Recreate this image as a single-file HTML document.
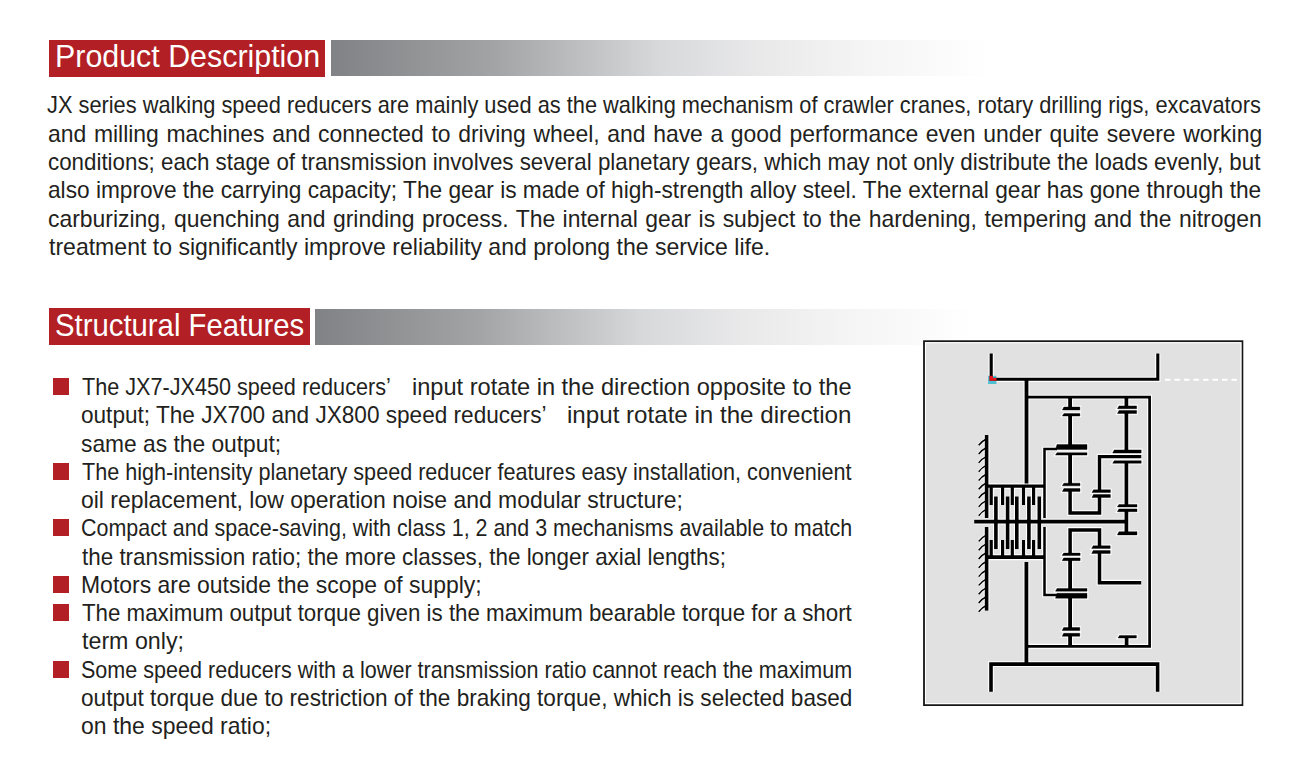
<!DOCTYPE html>
<html><head><meta charset="utf-8"><style>
html,body{margin:0;padding:0;background:#fff;}
body{width:1298px;height:758px;position:relative;overflow:hidden;font-family:"Liberation Sans",sans-serif;}
.l{position:absolute;white-space:nowrap;font-size:24px;line-height:28px;height:28px;color:#231f20;transform-origin:0 0;}
.j{text-align:justify;text-align-last:justify;}
.hd{position:absolute;background:#b21f24;}
.ht{position:absolute;white-space:nowrap;font-size:32px;line-height:36px;color:#fff;transform-origin:0 0;}
.gr{position:absolute;background:linear-gradient(to right,#808285 0%,#a3a4a6 25%,#d8d9db 50%,#e9e9ea 65%,#f4f4f4 80%,#ffffff 100%);}
.bu{position:absolute;background:#b21f24;width:16px;height:17px;}
svg{position:absolute;left:0;top:0;}
</style></head><body>

<div class="hd" style="left:49px;top:40px;width:276px;height:36.5px"></div>
<div class="gr" style="left:331px;top:40px;width:660px;height:36px"></div>
<div class="hd" style="left:49px;top:308.3px;width:261px;height:36.7px"></div>
<div class="gr" style="left:315px;top:308.5px;width:660px;height:36.3px"></div>
<div class="ht" style="left:54.951094890510944px;top:37.71px;transform:scaleX(0.9496)">Product Description</div>
<div class="ht" style="left:54.768029739776956px;top:306.91px;transform:scaleX(0.9160)">Structural Features</div>
<div class="l j" style="left:47.09px;top:91.38px;width:1336.56px;transform:scaleX(0.9082)">JX series walking speed reducers are mainly used as the walking mechanism of crawler cranes, rotary drilling rigs, excavators</div>
<div class="l j" style="left:48.05px;top:119.68px;width:1271.37px;transform:scaleX(0.9550)">and milling machines and connected to driving wheel, and have a good performance even under quite severe working</div>
<div class="l j" style="left:48.07px;top:147.98px;width:1302.92px;transform:scaleX(0.9305)">conditions; each stage of transmission involves several planetary gears, which may not only distribute the loads evenly, but</div>
<div class="l j" style="left:48.05px;top:176.28px;width:1283.86px;transform:scaleX(0.9450)">also improve the carrying capacity; The gear is made of high-strength alloy steel. The external gear has gone through the</div>
<div class="l j" style="left:48.05px;top:204.58px;width:1270.95px;transform:scaleX(0.9550)">carburizing, quenching and grinding process. The internal gear is subject to the hardening, tempering and the nitrogen</div>
<div class="l" style="left:49.00px;top:232.88px;transform:scaleX(0.9603)">treatment to significantly improve reliability and prolong the service life.</div>
<div class="l" style="left:81.60px;top:373.18px;transform:scaleX(0.9006)">The JX7-JX450 speed reducers’</div>
<div class="l" style="left:412.43px;top:373.18px;transform:scaleX(0.9833)">input rotate in the direction opposite to the</div>
<div class="l" style="left:80.66px;top:401.43px;transform:scaleX(0.9411)">output; The JX700 and JX800 speed reducers’</div>
<div class="l" style="left:567.39px;top:401.43px;transform:scaleX(1.0057)">input rotate in the direction</div>
<div class="l" style="left:80.65px;top:429.68px;transform:scaleX(0.9490)">same as the output;</div>
<div class="l j" style="left:81.60px;top:457.93px;width:855.19px;transform:scaleX(0.8999)">The high-intensity planetary speed reducer features easy installation, convenient</div>
<div class="l" style="left:80.64px;top:486.18px;transform:scaleX(0.9560)">oil replacement, low operation noise and modular structure;</div>
<div class="l j" style="left:80.71px;top:514.43px;width:863.11px;transform:scaleX(0.8936)">Compact and space-saving, with class 1, 2 and 3 mechanisms available to match</div>
<div class="l" style="left:81.60px;top:542.68px;transform:scaleX(0.9337)">the transmission ratio; the more classes, the longer axial lengths;</div>
<div class="l" style="left:80.69px;top:570.93px;transform:scaleX(0.9564)">Motors are outside the scope of supply;</div>
<div class="l j" style="left:81.60px;top:599.18px;width:828.41px;transform:scaleX(0.9292)">The maximum output torque given is the maximum bearable torque for a short</div>
<div class="l" style="left:81.60px;top:627.43px;transform:scaleX(0.9680)">term only;</div>
<div class="l j" style="left:80.70px;top:655.68px;width:859.05px;transform:scaleX(0.8978)">Some speed reducers with a lower transmission ratio cannot reach the maximum</div>
<div class="l j" style="left:80.66px;top:683.93px;width:819.17px;transform:scaleX(0.9417)">output torque due to restriction of the braking torque, which is selected based</div>
<div class="l" style="left:80.64px;top:712.18px;transform:scaleX(0.9561)">on the speed ratio;</div>
<div class="bu" style="left:53px;top:378.00px"></div>
<div class="bu" style="left:53px;top:462.75px"></div>
<div class="bu" style="left:53px;top:519.25px"></div>
<div class="bu" style="left:53px;top:575.75px"></div>
<div class="bu" style="left:53px;top:604.00px"></div>
<div class="bu" style="left:53px;top:660.50px"></div>
<svg width="1298" height="758" viewBox="0 0 1298 758">
<rect x="924" y="341.2" width="318.4" height="363.9" fill="#e1e1e1" stroke="#161616" stroke-width="1.8"/>
<rect x="925.5" y="342.7" width="315.4" height="360.9" fill="none" stroke="#fff" stroke-width="1"/>
<line x1="1165" y1="379.8" x2="1239" y2="379.8" stroke="#fff" stroke-width="2" stroke-dasharray="5.5 4"/>
<path d="M991.2,353.5 V379.3 H1157.8 V353.5" fill="none" stroke="#fff" stroke-width="5.300000000000001" stroke-linejoin="miter"/>
<path d="M1026.5,379.3 V483.5" fill="none" stroke="#fff" stroke-width="6.0" stroke-linejoin="miter"/>
<path d="M1026.5,397.1 H1149.6 V646.3 H1026.5" fill="none" stroke="#fff" stroke-width="4.9" stroke-linejoin="miter"/>
<path d="M1026.4,562 V664.1" fill="none" stroke="#fff" stroke-width="6.0" stroke-linejoin="miter"/>
<path d="M991,691.7 V664.1 H1157.6 V691.7" fill="none" stroke="#fff" stroke-width="5.800000000000001" stroke-linejoin="miter"/>
<path d="M1070.1,397 V408.5" fill="none" stroke="#fff" stroke-width="6.0" stroke-linejoin="miter"/>
<path d="M1070.1,414.8 V447" fill="none" stroke="#fff" stroke-width="6.0" stroke-linejoin="miter"/>
<path d="M1070.1,453.9 V484.5" fill="none" stroke="#fff" stroke-width="6.0" stroke-linejoin="miter"/>
<path d="M1070.1,490.1 V513 H1099.5 V496" fill="none" stroke="#fff" stroke-width="5.7" stroke-linejoin="miter"/>
<path d="M1099.5,491.2 V456.6 H1141.2" fill="none" stroke="#fff" stroke-width="5.6000000000000005" stroke-linejoin="miter"/>
<path d="M1126.4,397 V407.3" fill="none" stroke="#fff" stroke-width="5.9" stroke-linejoin="miter"/>
<path d="M1126.4,412 V451.5" fill="none" stroke="#fff" stroke-width="5.9" stroke-linejoin="miter"/>
<path d="M1126.4,462 V505.7" fill="none" stroke="#fff" stroke-width="5.9" stroke-linejoin="miter"/>
<path d="M1126.4,510.3 V533.3" fill="none" stroke="#fff" stroke-width="5.9" stroke-linejoin="miter"/>
<path d="M974.2,521.6 H1127.6" fill="none" stroke="#fff" stroke-width="5.800000000000001" stroke-linejoin="miter"/>
<path d="M986.6,435 V518" fill="none" stroke="#fff" stroke-width="5.800000000000001" stroke-linejoin="miter"/>
<path d="M986.6,527 V610.6" fill="none" stroke="#fff" stroke-width="5.800000000000001" stroke-linejoin="miter"/>
<path d="M986.6,486.1 H1044.5" fill="none" stroke="#fff" stroke-width="5.6000000000000005" stroke-linejoin="miter"/>
<path d="M1044.5,518 V449 H1057" fill="none" stroke="#fff" stroke-width="4.7" stroke-linejoin="miter"/>
<path d="M1044.5,527 V595 H1057" fill="none" stroke="#fff" stroke-width="4.7" stroke-linejoin="miter"/>
<path d="M986.6,557.2 H1044.5" fill="none" stroke="#fff" stroke-width="5.9" stroke-linejoin="miter"/>
<path d="M991.2,486 V505" fill="none" stroke="#fff" stroke-width="5.4" stroke-linejoin="miter"/>
<path d="M991.2,540 V557" fill="none" stroke="#fff" stroke-width="5.4" stroke-linejoin="miter"/>
<path d="M1002.6,486 V505" fill="none" stroke="#fff" stroke-width="5.4" stroke-linejoin="miter"/>
<path d="M1002.6,540 V557" fill="none" stroke="#fff" stroke-width="5.4" stroke-linejoin="miter"/>
<path d="M1012.3,486 V505" fill="none" stroke="#fff" stroke-width="5.4" stroke-linejoin="miter"/>
<path d="M1012.3,540 V557" fill="none" stroke="#fff" stroke-width="5.4" stroke-linejoin="miter"/>
<path d="M1023.5,486 V505" fill="none" stroke="#fff" stroke-width="5.4" stroke-linejoin="miter"/>
<path d="M1023.5,540 V557" fill="none" stroke="#fff" stroke-width="5.4" stroke-linejoin="miter"/>
<path d="M1033.6,486 V505" fill="none" stroke="#fff" stroke-width="5.4" stroke-linejoin="miter"/>
<path d="M1033.6,540 V557" fill="none" stroke="#fff" stroke-width="5.4" stroke-linejoin="miter"/>
<path d="M995.9,496.5 V521.6" fill="none" stroke="#fff" stroke-width="5.800000000000001" stroke-linejoin="miter"/>
<path d="M995.9,521.6 V549" fill="none" stroke="#fff" stroke-width="5.800000000000001" stroke-linejoin="miter"/>
<path d="M1007.6,496.5 V521.6" fill="none" stroke="#fff" stroke-width="5.800000000000001" stroke-linejoin="miter"/>
<path d="M1007.6,521.6 V549" fill="none" stroke="#fff" stroke-width="5.800000000000001" stroke-linejoin="miter"/>
<path d="M1016.8,496.5 V521.6" fill="none" stroke="#fff" stroke-width="5.800000000000001" stroke-linejoin="miter"/>
<path d="M1016.8,521.6 V549" fill="none" stroke="#fff" stroke-width="5.800000000000001" stroke-linejoin="miter"/>
<path d="M1028.9,496.5 V521.6" fill="none" stroke="#fff" stroke-width="5.800000000000001" stroke-linejoin="miter"/>
<path d="M1028.9,521.6 V549" fill="none" stroke="#fff" stroke-width="5.800000000000001" stroke-linejoin="miter"/>
<path d="M1039.3,496.5 V521.6" fill="none" stroke="#fff" stroke-width="5.800000000000001" stroke-linejoin="miter"/>
<path d="M1039.3,521.6 V549" fill="none" stroke="#fff" stroke-width="5.800000000000001" stroke-linejoin="miter"/>
<path d="M1070.1,554.3 V529.9 H1099.5 V547.1" fill="none" stroke="#fff" stroke-width="5.7" stroke-linejoin="miter"/>
<path d="M1070.1,559.3 V589.8" fill="none" stroke="#fff" stroke-width="6.0" stroke-linejoin="miter"/>
<path d="M1070.1,598 V629" fill="none" stroke="#fff" stroke-width="6.0" stroke-linejoin="miter"/>
<path d="M1070.1,634.8 V646.3" fill="none" stroke="#fff" stroke-width="6.0" stroke-linejoin="miter"/>
<path d="M1099.5,552.1 V582.7 H1141.2" fill="none" stroke="#fff" stroke-width="5.7" stroke-linejoin="miter"/>
<path d="M1126.6,636.7 V646.3" fill="none" stroke="#fff" stroke-width="5.9" stroke-linejoin="miter"/>
<path d="M1063.9,407.0 H1079.9 V410.0 H1062.4 Z" fill="#fff" stroke="#fff" stroke-width="2.6"/>
<path d="M1063.9,413.55 H1079.9 V416.05 H1062.4 Z" fill="#fff" stroke="#fff" stroke-width="2.6"/>
<path d="M1057,444.4 H1087 V449.6 H1055.5 Z" fill="#fff" stroke="#fff" stroke-width="2.6"/>
<path d="M1057.0,452.7 H1087 V455.09999999999997 H1055.5 Z" fill="#fff" stroke="#fff" stroke-width="2.6"/>
<path d="M1063.9,483.15 H1080 V485.85 H1062.4 Z" fill="#fff" stroke="#fff" stroke-width="2.6"/>
<path d="M1063.9,488.6 H1080 V491.6 H1062.4 Z" fill="#fff" stroke="#fff" stroke-width="2.6"/>
<path d="M1093.5,489.84999999999997 H1110.4 V492.55 H1092 Z" fill="#fff" stroke="#fff" stroke-width="2.6"/>
<path d="M1093.5,494.5 H1110.4 V497.5 H1092 Z" fill="#fff" stroke="#fff" stroke-width="2.6"/>
<path d="M1119.0,405.90000000000003 H1136.6 V408.7 H1117.5 Z" fill="#fff" stroke="#fff" stroke-width="2.6"/>
<path d="M1119.0,410.5 H1136.6 V413.5 H1117.5 Z" fill="#fff" stroke="#fff" stroke-width="2.6"/>
<path d="M1114.2,449.9 H1141.2 V453.1 H1112.7 Z" fill="#fff" stroke="#fff" stroke-width="2.6"/>
<path d="M1114.2,460.75 H1141.2 V463.25 H1112.7 Z" fill="#fff" stroke="#fff" stroke-width="2.6"/>
<path d="M1118.9,504.45 H1137 V506.95 H1117.4 Z" fill="#fff" stroke="#fff" stroke-width="2.6"/>
<path d="M1118.9,508.90000000000003 H1137 V511.7 H1117.4 Z" fill="#fff" stroke="#fff" stroke-width="2.6"/>
<path d="M1118.9,531.6999999999999 H1137 V534.9 H1117.4 Z" fill="#fff" stroke="#fff" stroke-width="2.6"/>
<path d="M1063.7,553.0999999999999 H1080.1 V555.5 H1062.2 Z" fill="#fff" stroke="#fff" stroke-width="2.6"/>
<path d="M1063.7,557.9 H1080.1 V560.6999999999999 H1062.2 Z" fill="#fff" stroke="#fff" stroke-width="2.6"/>
<path d="M1057.0,588.4499999999999 H1087 V591.15 H1055.5 Z" fill="#fff" stroke="#fff" stroke-width="2.6"/>
<path d="M1057,593.3 H1087 V598.2 H1055.5 Z" fill="#fff" stroke="#fff" stroke-width="2.6"/>
<path d="M1063.7,627.5 H1079.8 V630.5 H1062.2 Z" fill="#fff" stroke="#fff" stroke-width="2.6"/>
<path d="M1063.7,633.3 H1079.8 V636.3 H1062.2 Z" fill="#fff" stroke="#fff" stroke-width="2.6"/>
<path d="M1093.2,545.8000000000001 H1110.2 V548.4 H1091.7 Z" fill="#fff" stroke="#fff" stroke-width="2.6"/>
<path d="M1093.2,550.6 H1110.2 V553.6 H1091.7 Z" fill="#fff" stroke="#fff" stroke-width="2.6"/>
<path d="M1119.5,635.4000000000001 H1136.4 V638.0 H1118 Z" fill="#fff" stroke="#fff" stroke-width="2.6"/>
<path d="M978.7,445.3 Q982.3,440.8 985.5,439.5 M978.7,454.1 Q982.3,449.6 985.5,448.3 M978.7,462.9 Q982.3,458.4 985.5,457.1 M978.7,471.7 Q982.3,467.2 985.5,465.9 M978.7,480.5 Q982.3,476.0 985.5,474.7 M978.7,489.3 Q982.3,484.8 985.5,483.5 M978.7,498.1 Q982.3,493.6 985.5,492.3 M978.7,506.9 Q982.3,502.4 985.5,501.1 M978.7,515.7 Q982.3,511.2 985.5,509.9 M978.7,541.4 Q982.3,536.9 985.5,535.6 M978.7,550.2 Q982.3,545.7 985.5,544.4 M978.7,559.0 Q982.3,554.5 985.5,553.2 M978.7,567.8 Q982.3,563.3 985.5,562.0 M978.7,576.6 Q982.3,572.1 985.5,570.8 M978.7,585.4 Q982.3,580.9 985.5,579.6 M978.7,594.2 Q982.3,589.7 985.5,588.4 M978.7,603.0 Q982.3,598.5 985.5,597.2 M978.7,611.8 Q982.3,607.3 985.5,606.0" fill="none" stroke="#fff" stroke-width="3" stroke-opacity="0.8"/>
<rect x="988.1" y="375.8" width="8.3" height="8.2" fill="#4fc0d2"/>
<path d="M991.2,353.5 V379.3 H1157.8 V353.5" fill="none" stroke="#000" stroke-width="3.1" stroke-linejoin="miter"/>
<path d="M1026.5,379.3 V483.5" fill="none" stroke="#000" stroke-width="3.8000000000000003" stroke-linejoin="miter"/>
<path d="M1026.5,397.1 H1149.6 V646.3 H1026.5" fill="none" stroke="#000" stroke-width="2.7" stroke-linejoin="miter"/>
<path d="M1026.4,562 V664.1" fill="none" stroke="#000" stroke-width="3.8000000000000003" stroke-linejoin="miter"/>
<path d="M991,691.7 V664.1 H1157.6 V691.7" fill="none" stroke="#000" stroke-width="3.6" stroke-linejoin="miter"/>
<path d="M1070.1,397 V408.5" fill="none" stroke="#000" stroke-width="3.8000000000000003" stroke-linejoin="miter"/>
<path d="M1070.1,414.8 V447" fill="none" stroke="#000" stroke-width="3.8000000000000003" stroke-linejoin="miter"/>
<path d="M1070.1,453.9 V484.5" fill="none" stroke="#000" stroke-width="3.8000000000000003" stroke-linejoin="miter"/>
<path d="M1070.1,490.1 V513 H1099.5 V496" fill="none" stroke="#000" stroke-width="3.5" stroke-linejoin="miter"/>
<path d="M1099.5,491.2 V456.6 H1141.2" fill="none" stroke="#000" stroke-width="3.4000000000000004" stroke-linejoin="miter"/>
<path d="M1126.4,397 V407.3" fill="none" stroke="#000" stroke-width="3.7" stroke-linejoin="miter"/>
<path d="M1126.4,412 V451.5" fill="none" stroke="#000" stroke-width="3.7" stroke-linejoin="miter"/>
<path d="M1126.4,462 V505.7" fill="none" stroke="#000" stroke-width="3.7" stroke-linejoin="miter"/>
<path d="M1126.4,510.3 V533.3" fill="none" stroke="#000" stroke-width="3.7" stroke-linejoin="miter"/>
<path d="M974.2,521.6 H1127.6" fill="none" stroke="#000" stroke-width="3.6" stroke-linejoin="miter"/>
<path d="M986.6,435 V518" fill="none" stroke="#000" stroke-width="3.6" stroke-linejoin="miter"/>
<path d="M986.6,527 V610.6" fill="none" stroke="#000" stroke-width="3.6" stroke-linejoin="miter"/>
<path d="M986.6,486.1 H1044.5" fill="none" stroke="#000" stroke-width="3.4000000000000004" stroke-linejoin="miter"/>
<path d="M1044.5,518 V449 H1057" fill="none" stroke="#000" stroke-width="2.5" stroke-linejoin="miter"/>
<path d="M1044.5,527 V595 H1057" fill="none" stroke="#000" stroke-width="2.5" stroke-linejoin="miter"/>
<path d="M986.6,557.2 H1044.5" fill="none" stroke="#000" stroke-width="3.7" stroke-linejoin="miter"/>
<path d="M991.2,486 V505" fill="none" stroke="#000" stroke-width="3.2" stroke-linejoin="miter"/>
<path d="M991.2,540 V557" fill="none" stroke="#000" stroke-width="3.2" stroke-linejoin="miter"/>
<path d="M1002.6,486 V505" fill="none" stroke="#000" stroke-width="3.2" stroke-linejoin="miter"/>
<path d="M1002.6,540 V557" fill="none" stroke="#000" stroke-width="3.2" stroke-linejoin="miter"/>
<path d="M1012.3,486 V505" fill="none" stroke="#000" stroke-width="3.2" stroke-linejoin="miter"/>
<path d="M1012.3,540 V557" fill="none" stroke="#000" stroke-width="3.2" stroke-linejoin="miter"/>
<path d="M1023.5,486 V505" fill="none" stroke="#000" stroke-width="3.2" stroke-linejoin="miter"/>
<path d="M1023.5,540 V557" fill="none" stroke="#000" stroke-width="3.2" stroke-linejoin="miter"/>
<path d="M1033.6,486 V505" fill="none" stroke="#000" stroke-width="3.2" stroke-linejoin="miter"/>
<path d="M1033.6,540 V557" fill="none" stroke="#000" stroke-width="3.2" stroke-linejoin="miter"/>
<path d="M995.9,496.5 V521.6" fill="none" stroke="#000" stroke-width="3.6" stroke-linejoin="miter"/>
<path d="M995.9,521.6 V549" fill="none" stroke="#000" stroke-width="3.6" stroke-linejoin="miter"/>
<path d="M1007.6,496.5 V521.6" fill="none" stroke="#000" stroke-width="3.6" stroke-linejoin="miter"/>
<path d="M1007.6,521.6 V549" fill="none" stroke="#000" stroke-width="3.6" stroke-linejoin="miter"/>
<path d="M1016.8,496.5 V521.6" fill="none" stroke="#000" stroke-width="3.6" stroke-linejoin="miter"/>
<path d="M1016.8,521.6 V549" fill="none" stroke="#000" stroke-width="3.6" stroke-linejoin="miter"/>
<path d="M1028.9,496.5 V521.6" fill="none" stroke="#000" stroke-width="3.6" stroke-linejoin="miter"/>
<path d="M1028.9,521.6 V549" fill="none" stroke="#000" stroke-width="3.6" stroke-linejoin="miter"/>
<path d="M1039.3,496.5 V521.6" fill="none" stroke="#000" stroke-width="3.6" stroke-linejoin="miter"/>
<path d="M1039.3,521.6 V549" fill="none" stroke="#000" stroke-width="3.6" stroke-linejoin="miter"/>
<path d="M1070.1,554.3 V529.9 H1099.5 V547.1" fill="none" stroke="#000" stroke-width="3.5" stroke-linejoin="miter"/>
<path d="M1070.1,559.3 V589.8" fill="none" stroke="#000" stroke-width="3.8000000000000003" stroke-linejoin="miter"/>
<path d="M1070.1,598 V629" fill="none" stroke="#000" stroke-width="3.8000000000000003" stroke-linejoin="miter"/>
<path d="M1070.1,634.8 V646.3" fill="none" stroke="#000" stroke-width="3.8000000000000003" stroke-linejoin="miter"/>
<path d="M1099.5,552.1 V582.7 H1141.2" fill="none" stroke="#000" stroke-width="3.5" stroke-linejoin="miter"/>
<path d="M1126.6,636.7 V646.3" fill="none" stroke="#000" stroke-width="3.7" stroke-linejoin="miter"/>
<path d="M1063.9,407.0 H1079.9 V410.0 H1062.4 Z" fill="#000" stroke="#000" stroke-width="0.4"/>
<path d="M1063.9,413.55 H1079.9 V416.05 H1062.4 Z" fill="#000" stroke="#000" stroke-width="0.4"/>
<path d="M1057,444.4 H1087 V449.6 H1055.5 Z" fill="#000" stroke="#000" stroke-width="0.4"/>
<path d="M1057.0,452.7 H1087 V455.09999999999997 H1055.5 Z" fill="#000" stroke="#000" stroke-width="0.4"/>
<path d="M1063.9,483.15 H1080 V485.85 H1062.4 Z" fill="#000" stroke="#000" stroke-width="0.4"/>
<path d="M1063.9,488.6 H1080 V491.6 H1062.4 Z" fill="#000" stroke="#000" stroke-width="0.4"/>
<path d="M1093.5,489.84999999999997 H1110.4 V492.55 H1092 Z" fill="#000" stroke="#000" stroke-width="0.4"/>
<path d="M1093.5,494.5 H1110.4 V497.5 H1092 Z" fill="#000" stroke="#000" stroke-width="0.4"/>
<path d="M1119.0,405.90000000000003 H1136.6 V408.7 H1117.5 Z" fill="#000" stroke="#000" stroke-width="0.4"/>
<path d="M1119.0,410.5 H1136.6 V413.5 H1117.5 Z" fill="#000" stroke="#000" stroke-width="0.4"/>
<path d="M1114.2,449.9 H1141.2 V453.1 H1112.7 Z" fill="#000" stroke="#000" stroke-width="0.4"/>
<path d="M1114.2,460.75 H1141.2 V463.25 H1112.7 Z" fill="#000" stroke="#000" stroke-width="0.4"/>
<path d="M1118.9,504.45 H1137 V506.95 H1117.4 Z" fill="#000" stroke="#000" stroke-width="0.4"/>
<path d="M1118.9,508.90000000000003 H1137 V511.7 H1117.4 Z" fill="#000" stroke="#000" stroke-width="0.4"/>
<path d="M1118.9,531.6999999999999 H1137 V534.9 H1117.4 Z" fill="#000" stroke="#000" stroke-width="0.4"/>
<path d="M1063.7,553.0999999999999 H1080.1 V555.5 H1062.2 Z" fill="#000" stroke="#000" stroke-width="0.4"/>
<path d="M1063.7,557.9 H1080.1 V560.6999999999999 H1062.2 Z" fill="#000" stroke="#000" stroke-width="0.4"/>
<path d="M1057.0,588.4499999999999 H1087 V591.15 H1055.5 Z" fill="#000" stroke="#000" stroke-width="0.4"/>
<path d="M1057,593.3 H1087 V598.2 H1055.5 Z" fill="#000" stroke="#000" stroke-width="0.4"/>
<path d="M1063.7,627.5 H1079.8 V630.5 H1062.2 Z" fill="#000" stroke="#000" stroke-width="0.4"/>
<path d="M1063.7,633.3 H1079.8 V636.3 H1062.2 Z" fill="#000" stroke="#000" stroke-width="0.4"/>
<path d="M1093.2,545.8000000000001 H1110.2 V548.4 H1091.7 Z" fill="#000" stroke="#000" stroke-width="0.4"/>
<path d="M1093.2,550.6 H1110.2 V553.6 H1091.7 Z" fill="#000" stroke="#000" stroke-width="0.4"/>
<path d="M1119.5,635.4000000000001 H1136.4 V638.0 H1118 Z" fill="#000" stroke="#000" stroke-width="0.4"/>
<path d="M978.7,445.3 Q982.3,440.8 985.5,439.5 M978.7,454.1 Q982.3,449.6 985.5,448.3 M978.7,462.9 Q982.3,458.4 985.5,457.1 M978.7,471.7 Q982.3,467.2 985.5,465.9 M978.7,480.5 Q982.3,476.0 985.5,474.7 M978.7,489.3 Q982.3,484.8 985.5,483.5 M978.7,498.1 Q982.3,493.6 985.5,492.3 M978.7,506.9 Q982.3,502.4 985.5,501.1 M978.7,515.7 Q982.3,511.2 985.5,509.9 M978.7,541.4 Q982.3,536.9 985.5,535.6 M978.7,550.2 Q982.3,545.7 985.5,544.4 M978.7,559.0 Q982.3,554.5 985.5,553.2 M978.7,567.8 Q982.3,563.3 985.5,562.0 M978.7,576.6 Q982.3,572.1 985.5,570.8 M978.7,585.4 Q982.3,580.9 985.5,579.6 M978.7,594.2 Q982.3,589.7 985.5,588.4 M978.7,603.0 Q982.3,598.5 985.5,597.2 M978.7,611.8 Q982.3,607.3 985.5,606.0" fill="none" stroke="#000" stroke-width="1.5"/>
<path d="M989.4,375.7 H992.9 V377.9 H996.5 V380.8 H989.4 Z" fill="#e8141c"/>
</svg>
</body></html>
